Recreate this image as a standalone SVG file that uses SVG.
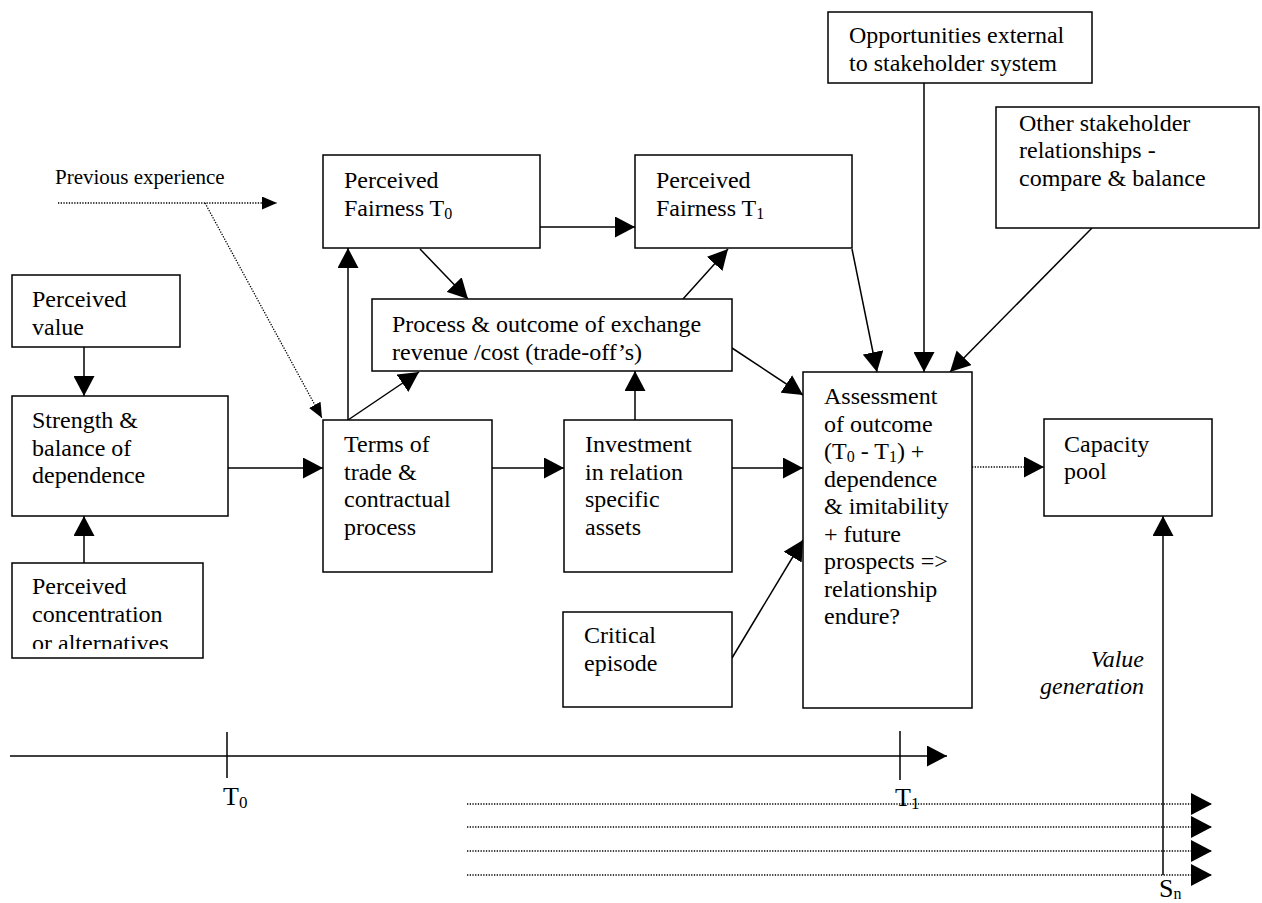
<svg xmlns="http://www.w3.org/2000/svg" width="1262" height="903" viewBox="0 0 1262 903">
<defs>
<style>
.box{fill:#fff;stroke:#000;stroke-width:1.5}
.t{font-family:"Liberation Serif","Times New Roman",serif;font-size:24px;fill:#000}
.sub{font-size:16px}
.ln{stroke:#000;stroke-width:1.5;fill:none}
.dot{stroke:#000;stroke-width:1.3;fill:none;stroke-dasharray:1.3 1.4}
.lab{font-family:"Liberation Serif","Times New Roman",serif;font-size:26px;fill:#000}
.it{font-style:italic;text-anchor:end}
</style>
<marker id="ah" markerUnits="userSpaceOnUse" markerWidth="20" markerHeight="21" refX="20" refY="10.5" orient="auto" viewBox="0 0 20 21"><path d="M0,0 L20,10.5 L0,21 z" fill="#000"/></marker>
<marker id="ahb" markerUnits="userSpaceOnUse" markerWidth="21" markerHeight="22" refX="21" refY="11" orient="auto" viewBox="0 0 21 22"><path d="M0,0 L21,11 L0,22 z" fill="#000"/></marker>
<marker id="ahs" markerUnits="userSpaceOnUse" markerWidth="15" markerHeight="13" refX="15" refY="6.5" orient="auto" viewBox="0 0 15 13"><path d="M0,0 L15,6.5 L0,13 z" fill="#000"/></marker>
<clipPath id="clipConc"><rect x="0" y="560" width="220" height="89"/></clipPath>
</defs>
<rect width="1262" height="903" fill="#fff"/>

<g id="connectors">
<line class="ln" x1="84" y1="347" x2="84" y2="396" marker-end="url(#ah)"/>
<line class="ln" x1="84" y1="563" x2="84" y2="516" marker-end="url(#ah)"/>
<line class="ln" x1="228" y1="468" x2="323" y2="468" marker-end="url(#ah)"/>
<line class="ln" x1="492" y1="468" x2="564" y2="468" marker-end="url(#ah)"/>
<line class="ln" x1="732" y1="468" x2="803" y2="468" marker-end="url(#ah)"/>
<line class="ln" x1="635" y1="420" x2="635" y2="371" marker-end="url(#ah)"/>
<line class="ln" x1="348" y1="420" x2="419" y2="372" marker-end="url(#ah)"/>
<line class="ln" x1="348" y1="420" x2="348" y2="248" marker-end="url(#ah)"/>
<line class="ln" x1="420" y1="249" x2="468" y2="299" marker-end="url(#ah)"/>
<line class="ln" x1="683" y1="299" x2="728" y2="249" marker-end="url(#ah)"/>
<line class="ln" x1="540" y1="227" x2="635" y2="227" marker-end="url(#ah)"/>
<line class="ln" x1="852" y1="249" x2="877" y2="372" marker-end="url(#ah)"/>
<line class="ln" x1="924" y1="83" x2="924" y2="372" marker-end="url(#ah)"/>
<line class="ln" x1="1092" y1="228" x2="950" y2="372" marker-end="url(#ah)"/>
<line class="ln" x1="732" y1="348" x2="803" y2="395" marker-end="url(#ah)"/>
<line class="ln" x1="732" y1="658" x2="803" y2="540" marker-end="url(#ah)"/>
<line class="dot" x1="972" y1="467" x2="1044" y2="467" marker-end="url(#ah)"/>
<line class="ln" x1="1163" y1="875" x2="1163" y2="516" marker-end="url(#ah)"/>
<line class="dot" x1="58" y1="203" x2="277" y2="203" marker-end="url(#ahs)"/>
<line class="dot" x1="205" y1="203" x2="322" y2="418" marker-end="url(#ahs)"/>
<line class="ln" x1="10" y1="756" x2="947" y2="756" marker-end="url(#ah)"/>
<line class="ln" x1="227" y1="732" x2="227" y2="778"/>
<line class="ln" x1="900" y1="731" x2="900" y2="780"/>
<line class="dot" x1="467" y1="804" x2="1212" y2="804" marker-end="url(#ahb)"/>
<line class="dot" x1="467" y1="827" x2="1212" y2="827" marker-end="url(#ahb)"/>
<line class="dot" x1="467" y1="851" x2="1212" y2="851" marker-end="url(#ahb)"/>
<line class="dot" x1="467" y1="875" x2="1212" y2="875" marker-end="url(#ahb)"/>
</g>

<g id="perceived-value">
<rect class="box" x="12" y="275" width="168" height="72"/>
<text class="t" x="32" y="307">Perceived</text>
<text class="t" x="32" y="335">value</text>
</g>
<g id="strength">
<rect class="box" x="12" y="396" width="216" height="120"/>
<text class="t" x="32" y="428">Strength &amp;</text>
<text class="t" x="32" y="455.5">balance of</text>
<text class="t" x="32" y="483">dependence</text>
</g>
<g id="concentration">
<rect class="box" x="12" y="563" width="191" height="95"/>
<g clip-path="url(#clipConc)">
<text class="t" x="32" y="594">Perceived</text>
<text class="t" x="32" y="622">concentration</text>
<text class="t" x="32" y="651">or alternatives</text>
</g>
</g>
<g id="fairness-t0">
<rect class="box" x="323" y="155" width="217" height="93"/>
<text class="t" x="344" y="188">Perceived</text>
<text class="t" x="344" y="216">Fairness T<tspan class="sub" dy="3">0</tspan></text>
</g>
<g id="fairness-t1">
<rect class="box" x="635" y="155" width="217" height="93"/>
<text class="t" x="656" y="188">Perceived</text>
<text class="t" x="656" y="216">Fairness T<tspan class="sub" dy="3">1</tspan></text>
</g>
<g id="process">
<rect class="box" x="372" y="299" width="360" height="72"/>
<text class="t" x="392" y="332">Process &amp; outcome of exchange</text>
<text class="t" x="392" y="360">revenue /cost (trade-off’s)</text>
</g>
<g id="terms">
<rect class="box" x="323" y="420" width="169" height="152"/>
<text class="t" x="344" y="452">Terms of</text>
<text class="t" x="344" y="480">trade &amp;</text>
<text class="t" x="344" y="507">contractual</text>
<text class="t" x="344" y="535">process</text>
</g>
<g id="investment">
<rect class="box" x="564" y="420" width="168" height="152"/>
<text class="t" x="585" y="452">Investment</text>
<text class="t" x="585" y="480">in relation</text>
<text class="t" x="585" y="507">specific</text>
<text class="t" x="585" y="535">assets</text>
</g>
<g id="critical">
<rect class="box" x="563" y="612" width="169" height="95"/>
<text class="t" x="584" y="643">Critical</text>
<text class="t" x="584" y="671">episode</text>
</g>
<g id="opportunities">
<rect class="box" x="828" y="12" width="264" height="71"/>
<text class="t" x="849" y="43">Opportunities external</text>
<text class="t" x="849" y="71">to stakeholder system</text>
</g>
<g id="other">
<rect class="box" x="996" y="107" width="263" height="121"/>
<text class="t" x="1019" y="131">Other stakeholder</text>
<text class="t" x="1019" y="158">relationships -</text>
<text class="t" x="1019" y="186">compare &amp; balance</text>
</g>
<g id="assessment">
<rect class="box" x="803" y="372" width="169" height="336"/>
<text class="t" x="824" y="404">Assessment</text>
<text class="t" x="824" y="431.5">of outcome</text>
<text class="t" x="824" y="459">(T<tspan class="sub" dy="3">0</tspan><tspan dy="-3"> - T</tspan><tspan class="sub" dy="3">1</tspan><tspan dy="-3">) +</tspan></text>
<text class="t" x="824" y="486.5">dependence</text>
<text class="t" x="824" y="514">&amp; imitability</text>
<text class="t" x="824" y="541.5">+ future</text>
<text class="t" x="824" y="569">prospects =&gt;</text>
<text class="t" x="824" y="596.5">relationship</text>
<text class="t" x="824" y="624">endure?</text>
</g>
<g id="capacity">
<rect class="box" x="1044" y="419" width="168" height="97"/>
<text class="t" x="1064" y="452">Capacity</text>
<text class="t" x="1064" y="479">pool</text>
</g>
<g id="labels">
<text class="t" x="55" y="184" style="font-size:21px">Previous experience</text>
<text class="t it" x="1144" y="667">Value</text>
<text class="t it" x="1144" y="694">generation</text>
<text class="lab" x="223" y="805">T<tspan class="sub" dy="3" style="font-size:17px">0</tspan></text>
<text class="lab" x="895" y="806">T<tspan class="sub" dy="3" style="font-size:17px">1</tspan></text>
<text class="lab" x="1159" y="897">S<tspan class="sub" dy="2" style="font-size:16px">n</tspan></text>
</g>
</svg>
